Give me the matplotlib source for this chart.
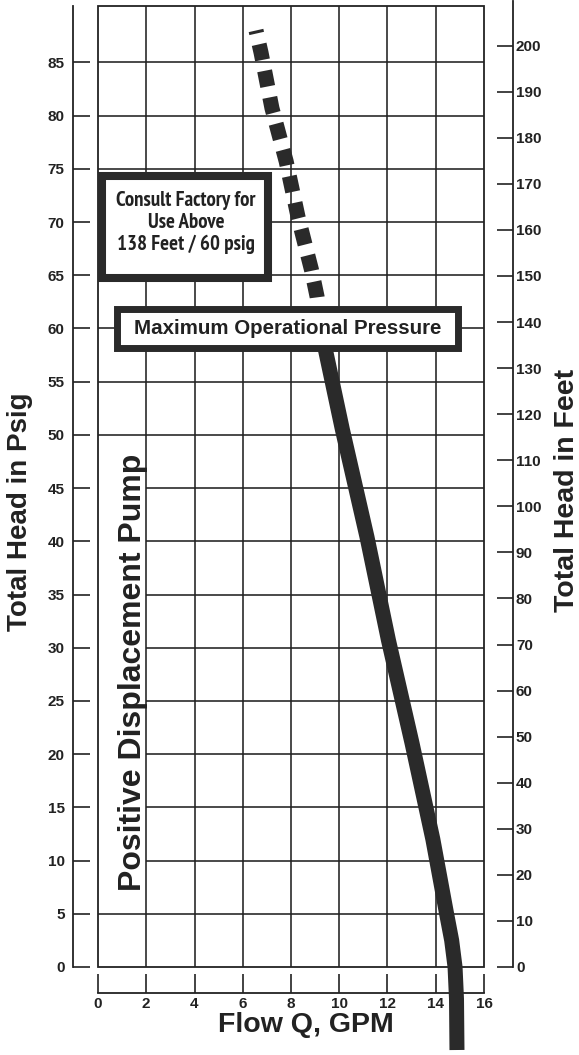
import matplotlib
matplotlib.use("Agg")
import matplotlib.pyplot as plt
from matplotlib.patches import Rectangle
from matplotlib import font_manager

# ---------------- data ----------------
flow_ticks = [0, 2, 4, 6, 8, 10, 12, 14, 16]
psig_ticks = [0, 5, 10, 15, 20, 25, 30, 35, 40, 45, 50, 55, 60, 65, 70, 75, 80, 85]
feet_ticks = [0, 10, 20, 30, 40, 50, 60, 70, 80, 90, 100, 110, 120, 130, 140, 150,
              160, 170, 180, 190, 200]

# operating curve (solid part, below max operational pressure)
solid_gpm = [9.25, 9.37, 10.13, 11.15, 12.04, 13.02, 13.88, 14.45, 14.66, 14.80, 14.86, 14.88]
solid_psig = [60.0, 58.6, 50.5, 40.4, 30.7, 21.0, 12.0, 5.0, 2.5, 0.0, -3.0, -7.8]

# extrapolated part (dashed, above max operational pressure)
dash_gpm = [6.55, 6.76, 7.21, 7.80, 8.29, 8.85, 9.08, 9.25]
dash_psig = [88.0, 85.9, 80.7, 75.7, 70.5, 65.5, 63.0, 60.0]

max_pressure_psig = 60
psi_to_feet = 2.31

xlabel = "Flow Q, GPM"
ylabel_left = "Total Head in Psig"
ylabel_right = "Total Head in Feet"
pump_label = "Positive Displacement Pump"
max_label = "Maximum Operational Pressure"
consult_label = "Consult Factory for\nUse Above\n138 Feet / 60 psig"

# ---------------- style ----------------
W, H = 579, 1055
INK = "#222222"
CURVE = "#2a2a2a"
plt.rcParams["font.family"] = ["Liberation Sans", "DejaVu Sans"]
plt.rcParams["lines.scale_dashes"] = False


def find_condensed_bold():
    cands = []
    for f in font_manager.fontManager.ttflist:
        name = f.name.lower()
        fname = f.fname.lower()
        w = f.weight if isinstance(f.weight, int) else (700 if "bold" in str(f.weight) else 400)
        if w < 600:
            continue
        is_cond = ("narrow" in name or "condensed" in name or "narrow" in fname
                   or "condensed" in fname or str(f.stretch) in ("condensed", "semi-condensed"))
        if not is_cond:
            continue
        if "narrow" in name or "narrow" in fname:
            rank = 0
        elif "dejavu" in name:
            rank = 3
        elif "semi" in fname or "semi" in name:
            rank = 2
        else:
            rank = 1
        cands.append((rank, f.fname))
    if cands:
        cands.sort()
        return font_manager.FontProperties(fname=cands[0][1])
    return font_manager.FontProperties(family="Liberation Sans", weight="bold")


fig = plt.figure(figsize=(W / 100, H / 100), dpi=100)
fig.patch.set_facecolor("white")

ymax = 90.3
ax = fig.add_axes([98 / W, 1 - 967 / H, (484 - 98) / W, (967 - 6) / H])
ax.set_xlim(0, 16)
ax.set_ylim(0, ymax)
ax.patch.set_visible(False)

# grid
grid_lw = 1.15
ax.vlines(flow_ticks[1:-1], 0, ymax, color=INK, lw=grid_lw, zorder=1)
for p in psig_ticks[1:]:
    xmin = 2 if 10 <= p <= 45 else 0
    ax.hlines(p, xmin, 16, color=INK, lw=grid_lw, zorder=1)
ax.add_patch(Rectangle((0, 0), 1, 1, transform=ax.transAxes, fill=False,
                       edgecolor=INK, lw=1.3, zorder=2, clip_on=False))

# spines / ticks (left psig, bottom flow)
for s in ["top", "right"]:
    ax.spines[s].set_visible(False)
ax.spines["left"].set_position(("outward", 18))
ax.spines["bottom"].set_position(("outward", 18.7))
ax.spines["bottom"].set_bounds(0, 16)
for s in ["left", "bottom"]:
    ax.spines[s].set_linewidth(1.3)
    ax.spines[s].set_color(INK)
ax.set_xticks(flow_ticks)
ax.set_yticks(psig_ticks)
ax.tick_params(axis="y", direction="in", length=12, width=1.2, pad=6,
               labelsize=11, color=INK, labelcolor=INK)
ax.tick_params(axis="x", direction="in", length=14, width=1.2, pad=3,
               labelsize=11, color=INK, labelcolor=INK)
for lbl in ax.get_xticklabels() + ax.get_yticklabels():
    lbl.set_fontweight("bold")

# right axis in feet
ax2 = ax.twinx()
ax2.set_ylim(0, ymax * psi_to_feet)
for s in ["top", "left", "bottom"]:
    ax2.spines[s].set_visible(False)
ax2.spines["right"].set_position(("outward", 21))
ax2.spines["right"].set_linewidth(1.3)
ax2.spines["right"].set_color(INK)
ax2.spines["right"].set_bounds(0, ymax * psi_to_feet + 1)
ax2.set_yticks(feet_ticks)
ax2.tick_params(axis="y", direction="in", length=11.5, width=1.2, pad=2,
                labelsize=11, color=INK, labelcolor=INK)
for lbl in ax2.get_yticklabels():
    lbl.set_fontweight("bold")

# curve
ax.plot(solid_gpm, solid_psig, color=CURVE, lw=10.8, solid_capstyle="butt",
        solid_joinstyle="round", zorder=3, clip_on=False)
ax.plot(dash_gpm, dash_psig, color=CURVE, lw=10.8, linestyle=(9.3, (11.5, 8.0)),
        dash_capstyle="butt", dash_joinstyle="round", zorder=3, clip_on=False)

# max operational pressure box
ax.add_patch(Rectangle((0.767, 58.2), 14.94 - 0.767, 61.8 - 58.2,
                       facecolor="white", edgecolor=CURVE, lw=5.0, zorder=5,
                       clip_on=False))
ax.text((0.767 + 14.94) / 2, max_pressure_psig, max_label, ha="center",
        va="center", fontsize=14.8, fontweight="bold", color=INK, zorder=6)

# consult factory box
ax.add_patch(Rectangle((0.166, 64.7), 7.05 - 0.166, 74.3 - 64.7,
                       facecolor="white", edgecolor=CURVE, lw=5.8, zorder=5,
                       clip_on=False))
cprop = find_condensed_bold()
cprop.set_size(14)
ctext = ax.text(3.65, 69.95, consult_label, ha="center", va="center",
                fontproperties=cprop, linespacing=1.26, color=INK, zorder=6)
# fit the widest line to the reference width (~143 px)
renderer = fig.canvas.get_renderer()
wpx = ctext.get_window_extent(renderer).width
if wpx > 0:
    size = min(15.0, 14 * 143.0 / wpx)
    ctext.set_fontsize(size)
    ctext.set_linespacing(1.26 * 14 / size)

# rotated pump label
ax.text(1.45, 27.7, pump_label, rotation=90, ha="center", va="center",
        fontsize=23, fontweight="bold", color=INK, zorder=6)

# axis titles
fig.text(20 / W, 1 - 512 / H, ylabel_left, rotation=90, ha="center",
         va="center", fontsize=20, fontweight="bold", color=INK)
fig.text(567 / W, 1 - 490 / H, ylabel_right, rotation=90, ha="center",
         va="center", fontsize=20.5, fontweight="bold", color=INK)
fig.text(306 / W, 1 - 1025 / H, xlabel, ha="center", va="center",
         fontsize=20.5, fontweight="bold", color=INK)

fig.savefig("out.png", dpi=100, facecolor="white")
